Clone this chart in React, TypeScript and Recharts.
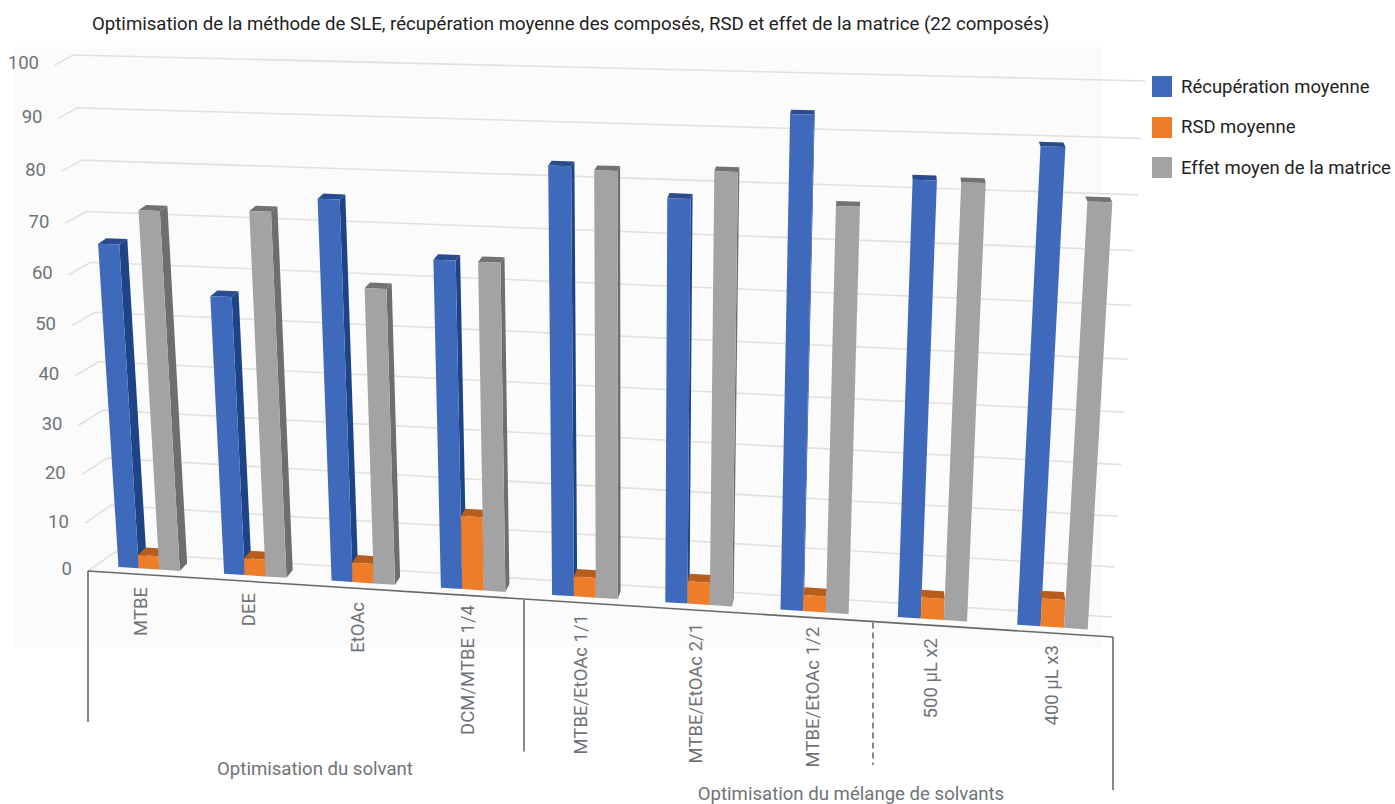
import React from "react";
import { BarChart, Bar, XAxis, YAxis, CartesianGrid, Legend } from "recharts";

const categories = ["MTBE", "DEE", "EtOAc", "DCM/MTBE 1/4", "MTBE/EtOAc 1/1", "MTBE/EtOAc 2/1", "MTBE/EtOAc 1/2", "500 µL x2", "400 µL x3"];
const meanRecovery = [65.6, 56.2, 75.8, 65, 83.4, 78.1, 94, 82.9, 89.5];
const meanRsd = [2.8, 3.5, 4, 14.9, 4, 4.5, 3.2, 4.2, 5.5];
const meanMatrixEffect = [72.4, 73, 59, 64.9, 82.8, 83.3, 77.7, 82.7, 80];
const valueTicks = [0, 10, 20, 30, 40, 50, 60, 70, 80, 90, 100];
const groupTitles = ["Optimisation du solvant", "Optimisation du mélange de solvants"];
const chartTitle = "Optimisation de la méthode de SLE, récupération moyenne des composés, RSD et effet de la matrice (22 composés)";

const rows = categories.map((solvent, i) => ({
  solvent,
  recovery: meanRecovery[i],
  rsd: meanRsd[i],
  matrix: meanMatrixEffect[i],
}));

const W = 1395;
const H = 804;
const PLOT = { left: 90, top: 60, width: 1020, height: 560 };

type Pt = [number, number];

// Projective map from the flat plot rectangle onto a four-cornered plane (TL, TR, BR, BL).
function planeMap(tl: Pt, tr: Pt, br: Pt, bl: Pt) {
  const dx1 = tr[0] - br[0], dx2 = bl[0] - br[0], sx = tl[0] - tr[0] + br[0] - bl[0];
  const dy1 = tr[1] - br[1], dy2 = bl[1] - br[1], sy = tl[1] - tr[1] + br[1] - bl[1];
  const den = dx1 * dy2 - dx2 * dy1;
  const g = (sx * dy2 - dx2 * sy) / den;
  const h = (dx1 * sy - sx * dy1) / den;
  const a = tr[0] - tl[0] + g * tr[0], b = bl[0] - tl[0] + h * bl[0], c = tl[0];
  const d = tr[1] - tl[1] + g * tr[1], e = bl[1] - tl[1] + h * bl[1], f = tl[1];
  return (x: number, y: number): Pt => {
    const u = (x - PLOT.left) / PLOT.width;
    const v = (y - PLOT.top) / PLOT.height;
    const w = g * u + h * v + 1;
    return [(a * u + b * v + c) / w, (d * u + e * v + f) / w];
  };
}

const wallPlane = planeMap([73, 55], [1145, 81], [1112, 617], [115, 552]);
const barPlane = planeMap([63.5, 63], [1146, 89], [1113, 631], [96.5, 565.5]);
const frontPlane = planeMap([55, 65], [1146, 92], [1113, 637], [88, 571]);

const poly = (pts: Pt[]) => pts.map((p) => `${p[0].toFixed(1)},${p[1].toFixed(1)}`).join(" ");

const SHADES: Record<string, { side: string; top: string }> = {
  "#3f69bb": { side: "#1d4484", top: "#2a4c8e" },
  "#ee7d2a": { side: "#a9561c", top: "#b75d1e" },
  "#a3a3a5": { side: "#6e6e6e", top: "#727272" },
};

// One bar drawn as a box: front face, right side and lid. The lid looks deeper low in the
// view, and the side narrows towards the right where the eye is nearly square to the bars.
function Prism(props: any) {
  const { x, y, width, height, fill } = props;
  if (height == null || height <= 0) return null;
  const tl = barPlane(x, y);
  const tr = barPlane(x + width, y);
  const br = barPlane(x + width, y + height);
  const bl = barPlane(x, y + height);
  const depth = (pt: Pt): Pt => [pt[0] + (880 - pt[0]) * 0.0105, pt[1] - (4.4 + ((pt[1] - 100) / 500) * 3.4)];
  const shade = SHADES[fill];
  const showSide = depth(tr)[0] > tr[0];
  return (
    <g>
      {showSide && <polygon points={poly([tr, depth(tr), depth(br), br])} fill={shade.side} />}
      <polygon points={poly([tl, tr, depth(tr), depth(tl)])} fill={shade.top} />
      <polygon points={poly([tl, tr, br, bl])} fill={fill} />
    </g>
  );
}

const GridLine = (props: any) => {
  const { x1, y1, x2, y2 } = props;
  const a = wallPlane(x1, y1);
  const b = wallPlane(x2, y2);
  const c = frontPlane(x1, y1);
  return <polyline points={poly([c, a, b])} fill="none" stroke="#e7dfdc" strokeWidth={1.6} />;
};

const ValueTick = (props: any) => {
  const { y, payload } = props;
  const p = frontPlane(PLOT.left, y);
  return (
    <text x={p[0] - 16} y={p[1] - 2} dy="0.35em" textAnchor="end" fontFamily="Roboto" fontSize={18.5} fill="#6f7378">
      {payload.value}
    </text>
  );
};

// Distance of each rotated label's end from the axis line.
const labelDrop = [12.6, 11.7, 13.6, 9.5, 11.3, 12.8, 9.3, 12.7, 12];

const CategoryTick = (props: any) => {
  const { x, payload, index } = props;
  const p = frontPlane(x, PLOT.top + PLOT.height);
  const tx = p[0];
  const ty = p[1] + labelDrop[index];
  return (
    <text transform={`rotate(-90 ${tx} ${ty})`} x={tx} y={ty} dy="0.35em" textAnchor="end" fontFamily="Roboto" fontSize={18.5} fill="#6f7378">
      {payload.value}
    </text>
  );
};

const LegendBlock = ({ payload }: any) => (
  <div style={{ fontFamily: "Roboto", fontSize: 18.5, color: "#222" }}>
    {(payload || []).map((item: any) => (
      <div key={item.value} style={{ display: "flex", alignItems: "center", height: 40.5 }}>
        <span style={{ width: 20, height: 21, background: item.color, marginRight: 9, flex: "none" }} />
        <span style={{ whiteSpace: "nowrap" }}>{item.value}</span>
      </div>
    ))}
  </div>
);

export default function App() {
  return (
    <div style={{ position: "absolute", left: 0, top: 0, width: W, height: H, background: "#fff", overflow: "hidden" }}>
      <div style={{ position: "absolute", left: 14, top: 47, width: 1088, height: 600, background: "#fbfbfb" }} />
      <BarChart
        width={W}
        height={H}
        data={rows}
        barGap={0}
        barCategoryGap="21%"
        margin={{ left: PLOT.left - 40, top: PLOT.top, right: W - PLOT.left - PLOT.width, bottom: H - PLOT.top - PLOT.height - 30 }}
      >
        <text x={92} y={29.5} fontFamily="Roboto" fontSize={18.64} fill="#222">{chartTitle}</text>
        <CartesianGrid vertical={false} horizontal={GridLine} />
        <XAxis dataKey="solvent" interval={0} height={30} axisLine={false} tickLine={false} tick={CategoryTick} />
        <YAxis width={40} domain={[0, 100]} ticks={valueTicks} interval={0} axisLine={false} tickLine={false} tick={ValueTick} />
        <Legend layout="vertical" align="center" verticalAlign="middle" itemSorter={null} content={LegendBlock} wrapperStyle={{ left: 1152, top: 66.5, width: 243 }} />
        <Bar dataKey="recovery" name="Récupération moyenne" fill="#3f69bb" shape={Prism} isAnimationActive={false} />
        <Bar dataKey="rsd" name="RSD moyenne" fill="#ee7d2a" shape={Prism} isAnimationActive={false} />
        <Bar dataKey="matrix" name="Effet moyen de la matrice" fill="#a3a3a5" shape={Prism} isAnimationActive={false} />
        <g fill="none" stroke="#666a6e" strokeWidth={1.6}>
          <line x1={88} y1={571} x2={1113} y2={637} />
          <line x1={88} y1={571} x2={88} y2={722} />
          <line x1={524} y1={600} x2={524} y2={751.5} />
          <line x1={873} y1={622.5} x2={873} y2={765} strokeDasharray="6 4" />
          <line x1={1113} y1={637} x2={1113} y2={790} />
        </g>
        <text x={315} y={768} dy="0.35em" textAnchor="middle" fontFamily="Roboto" fontSize={18.6} fill="#6f7378">{groupTitles[0]}</text>
        <text x={851} y={793} dy="0.35em" textAnchor="middle" fontFamily="Roboto" fontSize={18.6} fill="#6f7378">{groupTitles[1]}</text>
      </BarChart>
    </div>
  );
}
